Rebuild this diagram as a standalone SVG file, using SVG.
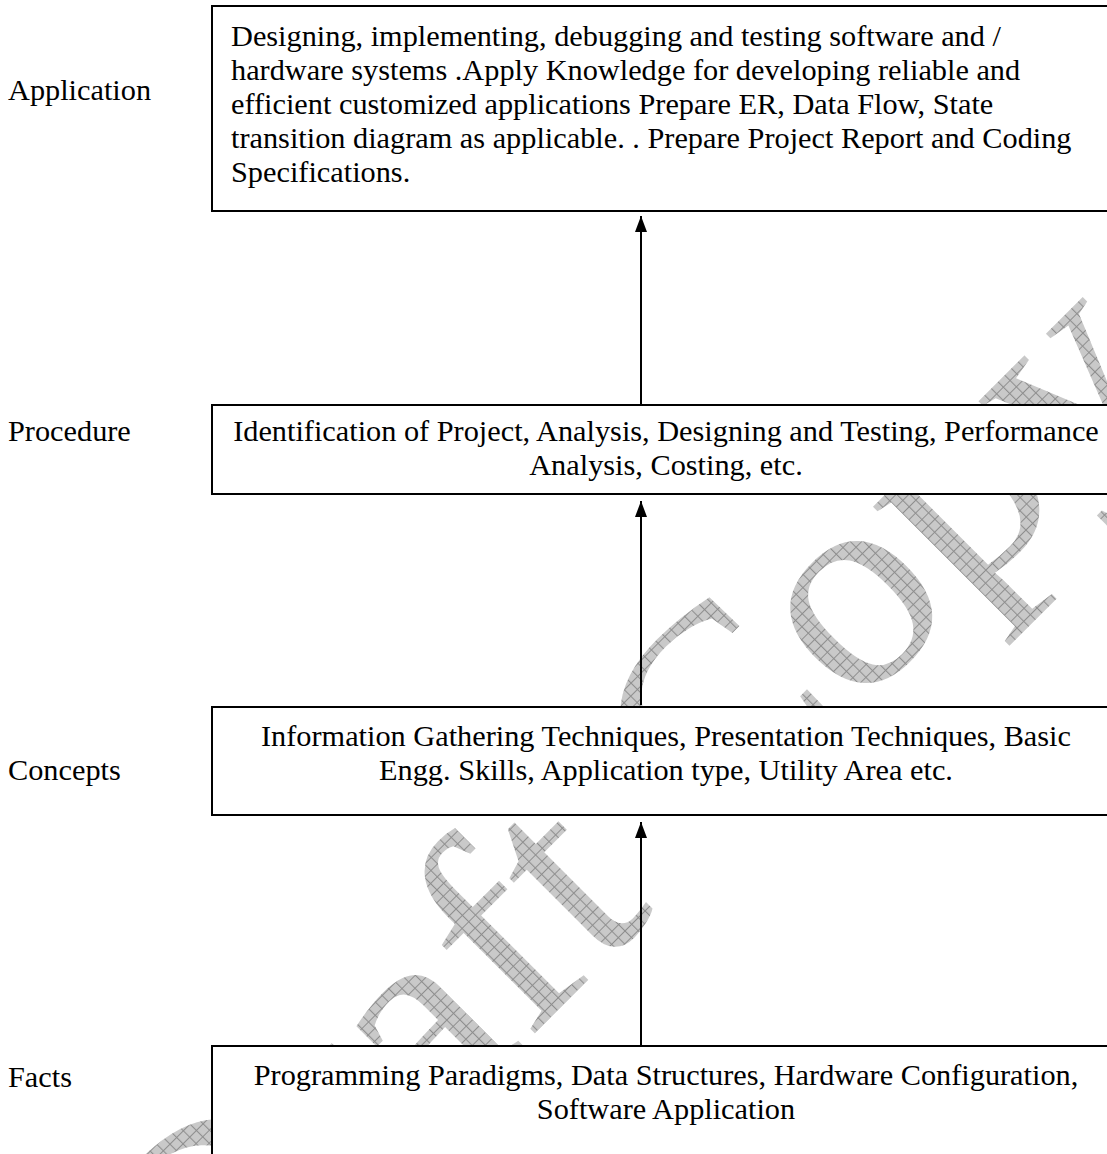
<svg xmlns="http://www.w3.org/2000/svg" width="1107" height="1154" viewBox="0 0 1107 1154">
  <defs>
    <pattern id="hatch" patternUnits="userSpaceOnUse" width="9" height="9">
      <rect width="9" height="9" fill="#c9c9c9"/>
      <path d="M0 0.5H9M0.5 0V9" stroke="#8e8e8e" stroke-width="1" fill="none"/>
    </pattern>
    <marker id="head" viewBox="0 0 16 12" refX="16" refY="6" markerWidth="16" markerHeight="12" markerUnits="userSpaceOnUse" orient="auto">
      <path d="M0 0L16 6L0 12Z" fill="#000"/>
    </marker>
  </defs>
  <style>
    .box { fill: #fff; stroke: #000; stroke-width: 2; }
    .txt { font-family: "Liberation Serif", "Times New Roman", serif; font-size: 30.3px; fill: #000; }
    .mid { text-anchor: middle; }
    .wire { stroke: #000; stroke-width: 2; fill: none; }
    .mark { font-family: "Liberation Serif", "Times New Roman", serif; font-size: 290px; fill: url(#hatch); }
  </style>

  <rect width="1107" height="1154" fill="#fff"/>

  <!-- background watermark -->
  <text class="mark" transform="translate(203 1365) rotate(-45) scale(1.05 1)">Draft Copy</text>

  <!-- level labels -->
  <g id="labels">
    <text class="txt" x="8" y="100">Application</text>
    <text class="txt" x="8" y="441">Procedure</text>
    <text class="txt" x="8" y="780">Concepts</text>
    <text class="txt" x="8" y="1087">Facts</text>
  </g>

  <!-- connectors -->
  <g id="connectors">
    <line class="wire" x1="641" y1="405" x2="641" y2="216" marker-end="url(#head)"/>
    <line class="wire" x1="641" y1="705" x2="641" y2="501" marker-end="url(#head)"/>
    <line class="wire" x1="641" y1="1046" x2="641" y2="822" marker-end="url(#head)"/>
  </g>

  <g id="application">
    <rect class="box" x="212" y="6" width="910" height="205"/>
    <text class="txt" x="231" y="46">Designing, implementing, debugging and testing software and /</text>
    <text class="txt" x="231" y="80">hardware systems .Apply Knowledge for developing reliable and</text>
    <text class="txt" x="231" y="114">efficient customized applications Prepare ER, Data Flow, State</text>
    <text class="txt" x="231" y="148">transition diagram as applicable. . Prepare Project Report and Coding</text>
    <text class="txt" x="231" y="182">Specifications.</text>
  </g>

  <g id="procedure">
    <rect class="box" x="212" y="405" width="910" height="89"/>
    <text class="txt mid" x="666" y="441">Identification of Project, Analysis, Designing and Testing, Performance</text>
    <text class="txt mid" x="666" y="475">Analysis, Costing, etc.</text>
  </g>

  <g id="concepts">
    <rect class="box" x="212" y="707" width="910" height="108"/>
    <text class="txt mid" x="666" y="746">Information Gathering Techniques, Presentation Techniques, Basic</text>
    <text class="txt mid" x="666" y="780">Engg. Skills, Application type, Utility Area etc.</text>
  </g>

  <g id="facts">
    <rect class="box" x="212" y="1046" width="910" height="140"/>
    <text class="txt mid" x="666" y="1085">Programming Paradigms, Data Structures, Hardware Configuration,</text>
    <text class="txt mid" x="666" y="1119">Software Application</text>
  </g>
</svg>
